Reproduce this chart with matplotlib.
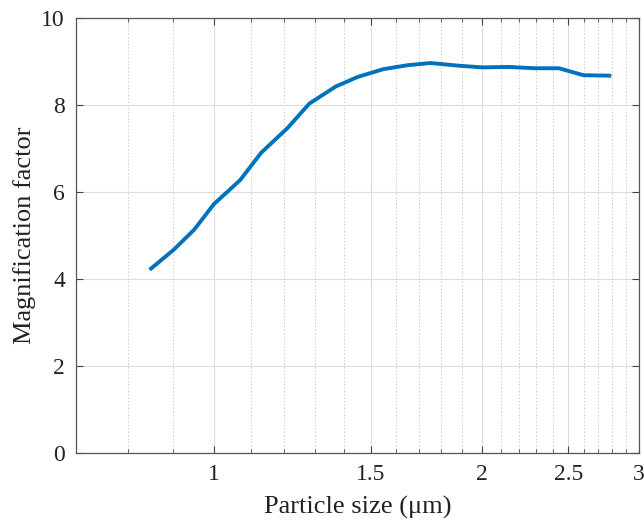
import numpy as np
import matplotlib.pyplot as plt
from matplotlib.ticker import FixedLocator, NullFormatter

# particle size (um) and magnification factor
size_um = [0.85, 0.90, 0.95, 1.00, 1.07, 1.13, 1.21, 1.28, 1.37, 1.45,
           1.55, 1.65, 1.75, 1.88, 2.00, 2.14, 2.29, 2.44, 2.60, 2.78]
magnification = [4.24, 4.66, 5.13, 5.72, 6.27, 6.90, 7.47, 8.03, 8.42, 8.64,
                 8.82, 8.91, 8.96, 8.90, 8.86, 8.87, 8.84, 8.84, 8.68, 8.67]

x_ticks = [1, 1.5, 2, 2.5, 3]
x_tick_labels = ['1', '1.5', '2', '2.5', '3']
y_ticks = [0, 2, 4, 6, 8, 10]

plt.rcParams['font.family'] = ['Liberation Serif', 'DejaVu Serif']
plt.rcParams['mathtext.fontset'] = 'stix'

fig = plt.figure(figsize=(6.44, 5.22), dpi=100)
ax = fig.add_axes([0.118, 0.132, 0.874, 0.834])

ax.plot(size_um, magnification, color='#0072BD', lw=2.8, zorder=3)

ax.set_xscale('log')
ax.set_xlim(0.7, 3)
ax.set_ylim(0, 10)

minor = [v / 10 for v in range(8, 30) if v % 5 != 0 and v != 10]
ax.xaxis.set_major_locator(FixedLocator(x_ticks))
ax.set_xticklabels(x_tick_labels)
ax.xaxis.set_minor_locator(FixedLocator(minor))
ax.xaxis.set_minor_formatter(NullFormatter())
ax.set_yticks(y_ticks)

ax.grid(which='major', color='#dddddd', lw=0.8, ls='-')
ax.grid(which='minor', axis='x', color='#cccccc', lw=0.7, ls=(0, (1.5, 2)))
ax.set_axisbelow(True)

ax.tick_params(which='both', direction='in', top=True, right=True,
               colors='#444444', labelcolor='#222222')
ax.tick_params(which='major', length=5, width=0.8, labelsize=17, pad=8)
ax.tick_params(which='minor', length=3, width=0.6)
for s in ax.spines.values():
    s.set_color('#555555')
    s.set_linewidth(0.9)

ax.set_xlabel('Particle size (μm)', fontsize=19, color='#222222', labelpad=8)
ax.set_ylabel('Magnification factor', fontsize=19, color='#222222', labelpad=4)

fig.savefig('out.png', dpi=100)
